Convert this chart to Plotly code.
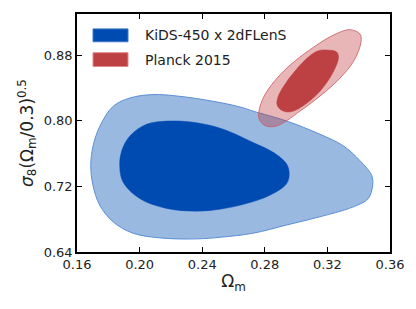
import plotly.graph_objects as go

# Contour outlines (Omega_m, sigma8*(Omega_m/0.3)^0.5)
kids_outer_x = [0.1688, 0.1703, 0.1747, 0.1832, 0.1939, 0.2086, 0.2257, 0.2468, 0.2641, 0.2726,
                0.2939, 0.3152, 0.3301, 0.3408, 0.3483, 0.3489, 0.3461, 0.3365, 0.3152, 0.2939,
                0.2726, 0.2513, 0.2364, 0.2150, 0.1958, 0.1830, 0.1745, 0.1702]
kids_outer_y = [0.7453, 0.7694, 0.7936, 0.8177, 0.8277, 0.8318, 0.8297, 0.8237, 0.8168, 0.8116,
                0.7996, 0.7835, 0.7694, 0.7513, 0.7332, 0.7211, 0.7051, 0.6950, 0.6829, 0.6729,
                0.6629, 0.6579, 0.6560, 0.6569, 0.6629, 0.6769, 0.6971, 0.7212]

kids_inner_x = [0.1873, 0.1886, 0.1939, 0.2044, 0.2193, 0.2364, 0.2534, 0.2726, 0.2854, 0.2939,
                0.2956, 0.2939, 0.2832, 0.2683, 0.2513, 0.2364, 0.2172, 0.2001, 0.1894]
kids_inner_y = [0.7453, 0.7634, 0.7815, 0.7956, 0.7996, 0.7975, 0.7896, 0.7734, 0.7614, 0.7474,
                0.7353, 0.7232, 0.7091, 0.6991, 0.6922, 0.6898, 0.6931, 0.7051, 0.7252]

planck_outer_x = [0.3259, 0.3344, 0.3408, 0.3415, 0.3366, 0.3238, 0.3025, 0.2875, 0.2800, 0.2762,
                  0.2790, 0.2918, 0.3131]
planck_outer_y = [0.9061, 0.9109, 0.9057, 0.8961, 0.8719, 0.8439, 0.8117, 0.7936, 0.7942, 0.8032,
                  0.8277, 0.8599, 0.8921]

planck_inner_x = [0.3197, 0.3257, 0.3271, 0.3239, 0.3133, 0.2983, 0.2918, 0.2879, 0.2886, 0.2941,
                  0.3069, 0.3141]
planck_inner_y = [0.8861, 0.8840, 0.8780, 0.8599, 0.8318, 0.8117, 0.8117, 0.8189, 0.8297, 0.8478,
                  0.8760, 0.8853]

legend_labels = ["KiDS-450 x 2dFLenS", "Planck 2015"]
x_ticks = [0.16, 0.20, 0.24, 0.28, 0.32, 0.36]
y_ticks = [0.64, 0.72, 0.80, 0.88]

FONT = "DejaVu Sans"

def closed(a):
    return list(a) + [a[0]]

fig = go.Figure()
fig.add_trace(go.Scatter(x=closed(kids_outer_x), y=closed(kids_outer_y), mode="lines",
                         line=dict(color="#5b8fd6", width=1, shape="spline", smoothing=1.0),
                         fill="toself", fillcolor="rgba(0,80,180,0.4)", showlegend=False,
                         hoverinfo="skip"))
fig.add_trace(go.Scatter(x=closed(kids_inner_x), y=closed(kids_inner_y), mode="lines",
                         line=dict(color="#004bb2", width=0.5, shape="spline", smoothing=1.0),
                         fill="toself", fillcolor="#004bb2", showlegend=False, hoverinfo="skip"))
fig.add_trace(go.Scatter(x=closed(planck_outer_x), y=closed(planck_outer_y), mode="lines",
                         line=dict(color="rgba(205,90,95,0.8)", width=1, shape="spline", smoothing=1.0),
                         fill="toself", fillcolor="rgba(190,45,50,0.35)", showlegend=False,
                         hoverinfo="skip"))
fig.add_trace(go.Scatter(x=closed(planck_inner_x), y=closed(planck_inner_y), mode="lines",
                         line=dict(color="#bd4042", width=0.5, shape="spline", smoothing=1.0),
                         fill="toself", fillcolor="#bd4042", showlegend=False, hoverinfo="skip"))

# Manual legend (paper coordinates)
W, H = 416, 309
ml, mr, mt, mb = 77, 26, 12, 57
pw, ph = W - ml - mr, H - mt - mb

def px(xp):
    return (xp - ml) / pw

def py(yp):
    return 1 - (yp - mt) / ph

leg = [(legend_labels[0], "#004bb2", "#3f78c9", 27, 40),
       (legend_labels[1], "#bd4042", "#e08b8c", 51, 65)]
for label, fc, lc, y0, y1 in leg:
    fig.add_shape(type="rect", xref="paper", yref="paper", x0=px(93), x1=px(128),
                  y0=py(y1), y1=py(y0), fillcolor=fc, line=dict(color=lc, width=1))
    fig.add_annotation(xref="paper", yref="paper", x=px(143), y=py((y0 + y1) / 2),
                       text=label, showarrow=False, xanchor="left", yanchor="middle",
                       font=dict(family=FONT, size=14, color="#222"))

axis_common = dict(showline=True, linecolor="black", linewidth=1.5, mirror="ticks",
                   ticks="inside", ticklen=5, tickwidth=1, tickcolor="black",
                   showgrid=False, zeroline=False,
                   tickfont=dict(family=FONT, size=13, color="#222"))

fig.update_xaxes(range=[0.16, 0.36], tickvals=x_ticks,
                 ticktext=[f"{v:.2f}" for v in x_ticks],
                 title=dict(text="Ω<sub>m</sub>", font=dict(family=FONT, size=17, color="#222"),
                            standoff=4),
                 **axis_common)
fig.update_yaxes(range=[0.64, 0.93], tickvals=y_ticks,
                 ticktext=[f"{v:.2f}" for v in y_ticks],
                 title=dict(text="<i>σ</i><sub>8</sub>(Ω<sub>m</sub>/0.3)<sup>0.5</sup>",
                            font=dict(family=FONT, size=17, color="#222"), standoff=6),
                 **axis_common)

fig.update_layout(width=W, height=H, margin=dict(l=ml, r=mr, t=mt, b=mb),
                  plot_bgcolor="white", paper_bgcolor="white", showlegend=False)

fig.write_html("out.html", config={"displayModeBar": False},
               post_script="document.body.style.margin='0';document.body.style.overflow='hidden';")
